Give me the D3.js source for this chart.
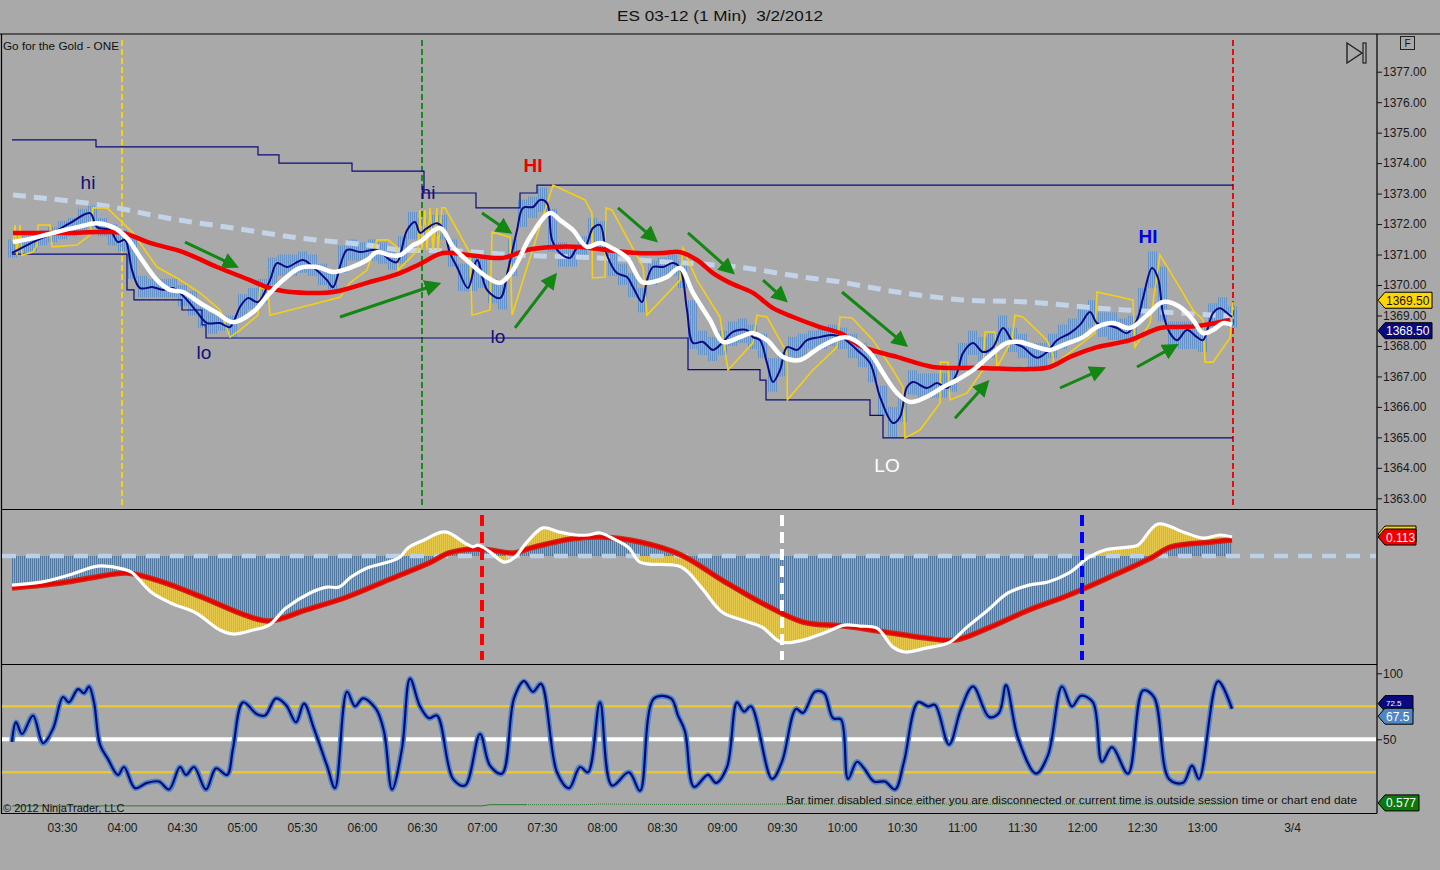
<!DOCTYPE html>
<html><head><meta charset="utf-8">
<script src="https://cdn.jsdelivr.net/npm/d3@7/dist/d3.min.js"></script>
<style>
html,body{margin:0;padding:0;background:#a9a9a9;}
svg{display:block;}
text{font-family:"Liberation Sans",Arial,sans-serif;}
</style></head><body>
<svg id="c" width="1440" height="870"></svg>
<script>
// ---------- DATA (minutes after 03:00, value) ----------
const timeTicks = [30,60,90,120,150,180,210,240,270,300,330,360,390,420,450,480,510,540,570,600,645];
const timeLabels = ["03:30","04:00","04:30","05:00","05:30","06:00","06:30","07:00","07:30","08:00","08:30","09:00","09:30","10:00","10:30","11:00","11:30","12:00","12:30","13:00","3/4"];
const priceTicks = [1363,1364,1365,1366,1367,1368,1369,1370,1371,1372,1373,1374,1375,1376,1377];
const stochTicks = [50,100];

const barT = d3.range(5, 616, 5);
const barHigh = [1371.5,1371.6,1371.7,1371.8,1371.9,1372.1,1372.2,1372.5,1372.6,1372.2,
1372.0,1371.8,1371.6,1370.3,1370.2,1370.2,1370.2,1370.0,1369.8,1369.3,
1369.1,1369.0,1369.0,1369.7,1369.9,1370.2,1370.9,1371.0,1371.0,1371.1,
1371.0,1370.7,1370.4,1371.3,1371.5,1371.4,1371.5,1371.4,1371.2,1371.6,
1372.4,1372.2,1372.3,1372.3,1371.5,1370.7,1370.9,1370.9,1370.2,1370.1,
1371.5,1372.8,1372.9,1373.2,1372.5,1371.4,1371.3,1371.6,1372.2,1372.1,
1371.1,1370.7,1370.4,1369.9,1370.8,1370.9,1371.0,1370.8,1369.5,1368.5,
1368.3,1368.5,1368.8,1368.9,1368.7,1368.4,1367.6,1367.8,1368.3,1368.4,
1368.5,1368.6,1368.7,1368.6,1368.4,1368.1,1367.7,1366.7,1366.0,1366.3,
1367.2,1367.1,1367.1,1367.1,1367.3,1368.1,1368.5,1368.3,1368.4,1369.0,
1368.6,1368.4,1368.1,1368.1,1368.4,1368.7,1368.9,1369.2,1369.5,1369.1,
1369.1,1368.9,1369.0,1369.9,1371.1,1370.6,1368.8,1368.8,1368.8,1368.6,
1369.4,1369.6,1369.3];
const barLow = [1370.9,1371.0,1371.1,1371.3,1371.4,1371.5,1371.6,1371.8,1371.9,1371.6,
1371.3,1371.1,1370.2,1369.6,1369.6,1369.6,1369.6,1369.3,1369.0,1368.6,
1368.4,1368.5,1368.3,1368.9,1369.2,1369.4,1370.0,1370.3,1370.3,1370.4,
1370.3,1370.0,1369.7,1370.4,1370.8,1370.8,1370.8,1370.7,1370.5,1370.7,
1371.5,1371.4,1371.6,1371.5,1370.6,1369.8,1369.8,1369.9,1369.4,1369.2,
1370.3,1371.9,1372.2,1372.4,1371.1,1370.6,1370.6,1370.9,1371.4,1371.1,
1370.3,1370.0,1369.6,1369.1,1370.0,1370.2,1370.3,1369.9,1367.9,1367.7,
1367.5,1367.7,1368.0,1368.1,1367.9,1367.6,1366.5,1367.0,1367.5,1367.6,
1367.9,1367.9,1368.0,1367.9,1367.6,1367.3,1366.8,1365.7,1365.0,1365.5,
1366.4,1366.3,1366.3,1366.3,1366.5,1367.2,1367.7,1367.5,1367.6,1368.1,
1367.8,1367.6,1367.3,1367.3,1367.6,1367.9,1368.1,1368.3,1368.6,1368.3,
1368.2,1368.1,1368.2,1368.9,1369.9,1368.8,1368.0,1367.9,1367.9,1367.8,
1368.6,1368.8,1368.6];

const navyLine = [[5,1371.05],[15.5,1371.41],[25.5,1371.71],[34,1372.03],[44,1372.36],[47.5,1371.90],[54,1371.80],[58,1371.41],[61.5,1371.48],[65,1370.49],
[69,1369.90],[75.5,1369.93],[80.5,1369.84],[85.5,1369.90],[92.5,1369.51],[97.5,1369.11],[102.5,1368.75],[109,1368.75],[114,1368.62],[119,1369.28],
[123,1369.57],[128,1369.44],[134,1370.16],[137.5,1370.72],[142.5,1370.59],[150.5,1370.82],[155.5,1370.59],[162.5,1370.16],[165.5,1369.93],[172.5,1371.15],
[179,1371.08],[187.5,1371.15],[194,1370.82],[197.5,1370.75],[202.5,1371.80],[206.5,1372.07],[209,1371.71],[212.5,1371.87],[217.5,1372.03],[220.5,1371.87],
[224,1371.05],[227.5,1370.59],[233,1369.90],[237.5,1370.82],[242.5,1369.84],[249,1369.57],[253,1370.49],[257.5,1371.80],[260.5,1372.53],[265.5,1372.56],
[269,1372.79],[272.5,1372.69],[275,1371.48],[279,1371.05],[284,1370.89],[287.5,1371.21],[291.5,1371.25],[295.5,1371.87],[299,1371.97],[302.5,1370.98],
[307.5,1370.39],[312.5,1370.26],[315.5,1369.93],[320,1369.44],[322.5,1370.16],[325.5,1370.59],[330.5,1370.59],[335.5,1370.72],[339,1370.56],[342.5,1369.18],
[345.5,1368.10],[350.5,1368.13],[355.5,1367.87],[360.5,1368.13],[365.5,1368.46],[372.5,1368.52],[375.5,1368.29],[379,1368.19],[382.5,1367.44],[385.5,1366.82],
[389,1367.21],[392.5,1367.96],[397.5,1367.87],[402.5,1368.19],[409,1368.29],[415.5,1368.36],[420.5,1368.26],[427.5,1367.87],[434,1367.44],[439,1366.33],
[445.5,1365.47],[449,1365.67],[452.5,1366.65],[455.5,1366.82],[462.5,1366.62],[467.5,1366.78],[472.5,1366.62],[477.5,1367.11],[480.5,1367.77],[485.5,1368.10],
[490.5,1367.80],[495.5,1367.96],[500.5,1368.59],[505.5,1368.13],[510.5,1367.96],[517.5,1367.61],[522.5,1367.80],[527.5,1368.19],[534,1368.42],[539,1368.69],
[544,1369.11],[547.5,1368.75],[552.5,1368.69],[557.5,1368.59],[562.5,1368.42],[567.5,1368.85],[570.5,1369.57],[575,1370.56],[578,1370.23],[580.5,1369.08],
[584,1368.42],[587.5,1368.19],[592.5,1368.52],[597.5,1368.29],[600.5,1368.19],[605.5,1369.08],[609,1369.24],[612.5,1369.08],[615,1368.95]];

const yellowLine = [[5.5,1371.38],[6.5,1371.97],[7.5,1370.98],[9,1371.97],[10,1370.98],[15.5,1371.08],[17.5,1371.31],[18,1371.97],[24,1371.97],[25,1371.25],
[37.5,1371.31],[44,1371.64],[45.5,1372.53],[52.5,1372.53],[60.5,1372.03],[65.5,1371.71],[72.5,1371.05],[77.5,1370.59],[87.5,1370.23],[99,1369.74],
[109,1369.18],[114,1368.29],[119,1368.52],[128,1369.01],[129,1369.93],[133,1369.84],[134,1369.01],[169,1369.60],[174,1370.07],[182.5,1370.49],
[187.5,1371.48],[193,1371.48],[197.5,1371.25],[198,1370.49],[208,1371.15],[209,1372.46],[210,1371.15],[211.5,1372.46],[212.5,1371.15],[214,1372.53],
[215.5,1371.15],[217.5,1372.53],[218,1371.15],[220,1372.53],[221.5,1372.53],[234,1371.05],[235,1369.01],[244,1369.18],[245,1371.74],[254,1371.57],
[255,1369.01],[275.5,1373.28],[291.5,1372.79],[295,1372.36],[295.2,1370.23],[301.5,1370.26],[302,1372.53],[305,1372.46],[320.5,1370.59],[322.5,1369.01],
[339,1370.16],[340.5,1371.21],[347.5,1370.16],[359,1368.95],[363,1367.21],[375.5,1368.10],[377.5,1369.01],[382.5,1368.95],[392.5,1367.77],[392.7,1366.23],
[405.5,1367.21],[417.5,1367.96],[419,1368.95],[425,1368.92],[435.5,1368.19],[445.5,1367.21],[450.5,1366.65],[451.5,1364.98],[459,1365.24],[469,1366.13],
[469.2,1367.47],[473,1367.47],[474,1366.23],[482.5,1366.46],[490.5,1367.21],[491.5,1368.46],[496.5,1368.46],[497.5,1367.31],[505,1368.19],[506.5,1369.01],
[510.5,1368.95],[522.5,1368.19],[525.5,1367.70],[525.7,1367.37],[546.5,1368.42],[547.5,1369.77],[565.5,1369.51],[566.5,1367.96],[574,1368.75],[579,1370.98],
[587.5,1370.07],[595.5,1369.18],[600.5,1368.85],[601.5,1367.47],[605.5,1367.47],[614,1368.26],[615.5,1369.44]];

const whiteLine = [[5.5,1371.41],[15.5,1371.54],[25.5,1371.71],[37.5,1371.90],[47.5,1372.03],[55.5,1371.90],[62.5,1371.54],[69,1370.92],[77.5,1370.16],[84,1369.84],
[90.5,1369.77],[99,1369.41],[107.5,1369.08],[115.5,1368.78],[125.5,1369.11],[134,1369.74],[140.5,1370.16],[149,1370.56],[157.5,1370.59],[165.5,1370.43],
[174,1370.56],[182.5,1370.82],[187.5,1371.08],[194,1370.98],[199,1370.98],[205.5,1371.31],[209,1371.41],[219,1371.87],[225.5,1371.25],[234,1370.72],
[242.5,1370.26],[249,1370.07],[255.5,1370.49],[264,1371.57],[274,1372.36],[279,1372.13],[285.5,1371.80],[292.5,1371.25],[299,1371.38],[305,1371.21],
[312.5,1370.89],[320,1370.10],[325.5,1370.10],[332.5,1370.26],[339,1370.56],[345.5,1369.74],[354,1368.85],[360.5,1368.13],[369,1368.29],[375.5,1368.42],
[382.5,1368.19],[390.5,1367.64],[399,1367.54],[409,1367.96],[419,1368.26],[424,1368.26],[434,1367.77],[440.5,1367.11],[447.5,1366.46],[454,1366.16],
[464,1366.39],[470.5,1366.65],[477.5,1366.88],[485.5,1367.21],[495.5,1367.77],[502.5,1368.10],[509,1368.13],[517.5,1367.96],[524,1367.87],[530.5,1368.03],
[540.5,1368.29],[547.5,1368.62],[555.5,1368.75],[564,1368.59],[572.5,1369.01],[580.5,1369.44],[589,1369.28],[595.5,1368.85],[600.5,1368.42],[605.5,1368.52],
[610.5,1368.75],[615,1368.69]];

const redLine = [[5.5,1371.71],[32.5,1371.71],[49,1371.74],[60.5,1371.71],[74,1371.38],[90.5,1371.08],[107.5,1370.59],[124,1370.16],[132.5,1369.93],[140.5,1369.80],
[152.5,1369.74],[165.5,1369.77],[182.5,1370.07],[199,1370.39],[209,1370.69],[220.5,1371.05],[234,1370.98],[250.5,1370.89],[262.5,1371.15],[275.5,1371.25],
[289,1371.25],[302.5,1371.15],[317.5,1371.05],[330.5,1371.05],[339,1371.08],[347.5,1370.82],[355.5,1370.39],[364,1370.07],[375.5,1369.74],[385.5,1369.24],
[395.5,1368.95],[409,1368.62],[419,1368.42],[430.5,1367.96],[447.5,1367.64],[465.5,1367.31],[489,1367.28],[514,1367.24],[524,1367.31],[534,1367.64],
[547.5,1367.96],[564,1368.19],[579,1368.59],[589,1368.62],[597.5,1368.65],[614,1368.85]];

const slowLine = [[5.5,1372.95],[49,1372.63],[82.5,1372.20],[115.5,1371.87],[149,1371.54],[182.5,1371.31],[199,1371.15],[225.5,1371.12],[259,1370.98],[299,1370.89],
[334,1370.75],[367.5,1370.59],[400.5,1370.26],[419,1370.10],[447.5,1369.77],[480.5,1369.51],[514,1369.44],[547.5,1369.24],[580.5,1369.11],[615,1368.98]];

const upperSteps = [[5,1374.76],[47,1374.53],[128,1374.27],[138.5,1374.0],[175,1373.74],[211,1373.02],[237,1372.53],[259,1373.02],[267.5,1373.28],[615.5,1373.28]];
const lowerSteps = [[5,1371.01],[62.5,1369.84],[66,1369.51],[90,1369.18],[100,1368.69],[102,1368.26],[343,1367.22],[379,1366.88],[382,1366.23],[434,1365.72],[440.5,1364.98],[615.5,1364.98]];

const arrows = [[91.5,1371.41,115.5,1370.66],[169,1368.95,216.5,1370.00],[240,1372.36,252.5,1371.80],[256.5,1368.59,275.5,1370.23],
[308,1372.53,325.5,1371.54],[343,1371.71,364,1370.49],[380.5,1370.16,390.5,1369.57],[420,1369.77,450.5,1368.10],
[476.5,1365.63,491.5,1366.72],[529,1366.62,549,1367.21],[567.5,1367.31,585.5,1367.96]];

const labels = [["hi",43,1373.15,"#10107a"],["hi",213,1372.82,"#10107a"],["lo",101,1367.57,"#10107a"],["lo",248,1368.10,"#10107a"],
["HI",265.5,1373.72,"#ee0000"],["HI",573,1371.38,"#0000ee"],["LO",442.5,1363.85,"#ffffff"]];

const vLinesMain = [[60,"#f2d21a"],[210,"#1c8a1c"],[615.5,"#e01010"]];
const vLinesMid = [[240,"#ff0000"],[390,"#ffffff"],[540,"#0000ff"]];

const macdWhite = [[5,-0.173],[19.5,-0.155],[33.5,-0.113],[48,-0.060],[58,-0.071],[64.5,-0.095],[74.5,-0.214],[84.5,-0.280],[97,-0.339],[109,-0.440],
[115.5,-0.464],[125.5,-0.440],[133.5,-0.411],[142,-0.310],[154,-0.220],[162.5,-0.185],[168.5,-0.185],[174.5,-0.125],[182.5,-0.071],[193,-0.036],
[199,-0.006],[203,0.048],[211,0.095],[221.5,0.143],[231.5,0.077],[235.5,0.054],[238,0.065],[244,0.024],[251,-0.036],[256,-0.012],
[262.5,0.083],[270.5,0.167],[278.5,0.143],[287,0.125],[293,0.125],[299,0.137],[305,0.107],[313.5,0.048],[319,-0.036],[339.5,-0.065],
[349.5,-0.185],[360,-0.333],[370,-0.381],[380,-0.423],[389.5,-0.512],[400.5,-0.500],[411,-0.458],[421,-0.411],[429,-0.417],[437.5,-0.429],
[445.5,-0.542],[451.5,-0.571],[462,-0.548],[474,-0.512],[482.5,-0.423],[493,-0.321],[503,-0.220],[513.5,-0.173],[523,-0.155],[533.5,-0.101],
[543.5,-0.006],[551.5,0.036],[564,0.054],[568,0.065],[578,0.190],[590.5,0.143],[600.5,0.107],[609,0.125],[615,0.113]];
const macdRed = [[5,-0.190],[29.5,-0.161],[50,-0.119],[62.5,-0.101],[80.5,-0.155],[101,-0.250],[121.5,-0.351],[133.5,-0.387],[152,-0.321],[172.5,-0.244],
[193,-0.143],[213.5,-0.042],[223.5,0.018],[235.5,0.042],[244,0.036],[256,0.018],[264.5,0.048],[284.5,0.101],[299,0.113],[319,0.083],
[339.5,0.006],[360,-0.143],[380,-0.280],[400.5,-0.393],[421,-0.417],[441.5,-0.452],[462,-0.488],[476.5,-0.500],[493,-0.429],[513.5,-0.321],
[533.5,-0.232],[554,-0.125],[574.5,-0.012],[584.5,0.054],[605,0.083],[615,0.095]];

const stoch = [[5,48],[7,63],[10,54],[15.5,68],[20.5,47],[25.5,58],[30.5,82],[33.5,78],[38,88],[41,85],[43.5,90],[46,78],[49,46],[53,35],[58,23],[61,29],
[66.5,13],[72.5,17],[78.5,18],[83.5,12],[89,29],[92,23],[96,29],[102,12],[107,28],[112.5,23],[115.5,43],[120.5,78],[127.5,69],[131.5,68],[137,81],[142,76],
[147,63],[151,77],[156,58],[162.5,30],[166.5,13],[172.5,86],[176.5,75],[180.5,81],[187,73],[191,56],[195,12],[200,43],[204,96],[209,75],[213.5,66],[217.5,68],
[225.5,20],[231.5,15],[239,54],[244,30],[250,24],[256,81],[261,94],[265.5,86],[269.5,92],[277.5,25],[283.5,13],[289,29],[293,25],[299,78],[305,15],[313.5,25],
[319,11],[326,81],[334.5,81],[338,68],[341.5,56],[346,14],[353,23],[357,17],[362.5,29],[367.5,78],[371,71],[374.5,75],[385,20],[390,33],[397,73],[400.5,70],
[406.5,86],[411,85],[415.5,66],[419.5,65],[423,20],[427.5,33],[431,28],[436,18],[441.5,18],[446.5,12],[451,33],[458,78],[463,75],[466.5,76],[473.5,46],[479.5,73],
[485.5,90],[493.5,67],[498.5,70],[502,91],[508,51],[517,24],[523,38],[530,90],[535,75],[539.5,83],[545.5,78],[550,33],[555,44],[563,24],[570.5,87],[576,82],
[583.5,20],[590.5,17],[595,30],[598.5,20],[608,94],[615,73]];
const stochLevels = [[75,"#e8c82a",2.5],[50,"#ffffff",4],[25,"#e8c82a",2.5]];
const greenSolid = [[5,0.567],[240,0.567],[244,0.571],[262,0.571]];
const greenDotted = [[262,0.571],[290,0.571],[300,0.573],[330,0.572],[400,0.573],[615,0.573]];

// ---------- SCALES ----------
const x = d3.scaleLinear().domain([0, 687.5]).range([2, 1377]);
const yMain = d3.scaleLinear().domain([1363, 1377]).range([498.3, 71.7]);
const yMid = d3.scaleLinear().domain([0, 0.113]).range([556, 537]);
const ySt = d3.scaleLinear().domain([0, 100]).range([805.3, 673.3]);
const yGr = d3.scaleLinear().domain([0.55, 0.60]).range([811, 796]);

const svg = d3.select('#c');
svg.append('rect').attr('width',1440).attr('height',870).attr('fill','#a9a9a9');
const defs = svg.append('defs');
function clip(id,y0,y1){defs.append('clipPath').attr('id',id).append('rect').attr('x',2).attr('y',y0).attr('width',1374).attr('height',y1-y0);}
clip('cMain',35,508); clip('cMid',511,663); clip('cSt',666,812);
const bp = defs.append('pattern').attr('id','barPat').attr('width',2).attr('height',4).attr('patternUnits','userSpaceOnUse');
bp.append('rect').attr('x',0).attr('width',1).attr('height',4).attr('fill','#6592c8');
const hp = defs.append('pattern').attr('id','histPat').attr('width',2).attr('height',4).attr('patternUnits','userSpaceOnUse');
hp.append('rect').attr('x',0).attr('width',1).attr('height',4).attr('fill','#52789f');
hp.append('rect').attr('x',1).attr('width',1).attr('height',4).attr('fill','#86a9cc');
const yp = defs.append('pattern').attr('id','yelPat').attr('width',2).attr('height',4).attr('patternUnits','userSpaceOnUse');
yp.append('rect').attr('x',0).attr('width',1).attr('height',4).attr('fill','#e6c94c');
yp.append('rect').attr('x',1).attr('width',1).attr('height',4).attr('fill','#cdb455');
defs.append('marker').attr('id','arr').attr('viewBox','0 0 10 10').attr('refX',6).attr('refY',5)
  .attr('markerWidth',5.5).attr('markerHeight',5.5).attr('orient','auto')
  .append('path').attr('d','M0,0 L10,5 L0,10 Z').attr('fill','#138613');

// title
svg.append('text').attr('x',720).attr('y',21).attr('text-anchor','middle').attr('font-size',15)
  .attr('textLength',206).attr('lengthAdjust','spacingAndGlyphs')
  .style('white-space','pre').attr('fill','#111').text('ES 03-12 (1 Min)  3/2/2012');

// frames
const frame = svg.append('g').attr('stroke','#000').attr('stroke-width',1.2);
frame.append('line').attr('x1',0).attr('x2',1440).attr('y1',34).attr('y2',34);
[509.5,664.5,813.5].forEach(yy=>frame.append('line').attr('x1',1).attr('x2',1377).attr('y1',yy).attr('y2',yy));
frame.append('line').attr('x1',1.5).attr('x2',1.5).attr('y1',34).attr('y2',813.5);
frame.append('line').attr('x1',1377).attr('x2',1377).attr('y1',34).attr('y2',813.5);

// ---------- MAIN PANEL ----------
const gm = svg.append('g').attr('clip-path','url(#cMain)');
const cr = d3.curveCatmullRom.alpha(0.5);
const lnMain = d3.line().x(d=>x(d[0])).y(d=>yMain(d[1])).curve(cr);
vLinesMain.forEach(([m,c])=>gm.append('line').attr('x1',x(m)).attr('x2',x(m)).attr('y1',40).attr('y2',508)
  .attr('stroke',c).attr('stroke-width',2).attr('stroke-dasharray','6,3'));
gm.selectAll('rect.bar').data(barT.map((m,i)=>[m,barHigh[i],barLow[i]])).join('rect').attr('class','bar')
  .attr('x',d=>x(d[0]-2.5)).attr('width',x(5)-x(0)).attr('y',d=>yMain(d[1])).attr('height',d=>yMain(d[2])-yMain(d[1]))
  .attr('fill','url(#barPat)');
const stepLn = d3.line().x(d=>x(d[0])).y(d=>yMain(d[1])).curve(d3.curveStepAfter);
[upperSteps,lowerSteps].forEach(s=>gm.append('path').attr('d',stepLn(s)).attr('fill','none').attr('stroke','#0a0a7a').attr('stroke-width',1.2));
gm.append('path').attr('d',lnMain(slowLine)).attr('fill','none').attr('stroke','#c3d3e8').attr('stroke-width',5).attr('stroke-dasharray','13,8');
gm.append('path').attr('d',d3.line().x(d=>x(d[0])).y(d=>yMain(d[1]))(yellowLine)).attr('fill','none').attr('stroke','#f5cf14').attr('stroke-width',1.6);
gm.append('path').attr('d',lnMain(navyLine)).attr('fill','none').attr('stroke','#0b0b86').attr('stroke-width',2);
gm.append('path').attr('d',lnMain(redLine)).attr('fill','none').attr('stroke','#f20000').attr('stroke-width',4.5);
gm.append('path').attr('d',lnMain(whiteLine)).attr('fill','none').attr('stroke','#ffffff').attr('stroke-width',4.5);
arrows.forEach(a=>gm.append('line').attr('x1',x(a[0])).attr('y1',yMain(a[1])).attr('x2',x(a[2])).attr('y2',yMain(a[3]))
  .attr('stroke','#138613').attr('stroke-width',3).attr('marker-end','url(#arr)'));
labels.forEach(l=>gm.append('text').attr('x',x(l[1])).attr('y',yMain(l[2])).attr('text-anchor','middle')
  .attr('font-family','DejaVu Sans').attr('font-size',19)
  .attr('font-weight',l[0]==='HI'?'bold':'normal').attr('fill',l[3]).text(l[0]));
svg.append('text').attr('x',3).attr('y',50).attr('font-size',11).attr('fill','#111')
  .attr('textLength',116).attr('lengthAdjust','spacingAndGlyphs').text('Go for the Gold - ONE');

// price axis
const pa = svg.append('g').attr('transform','translate(1377,0)')
  .call(d3.axisRight(yMain).tickValues(priceTicks).tickFormat(d3.format('.2f')).tickSize(5).tickSizeOuter(0).tickPadding(1));
pa.select('.domain').remove();
pa.selectAll('text').attr('font-size',12).attr('fill','#1a1a1a').attr('font-family','Liberation Sans');
pa.selectAll('line').attr('stroke','#111');

// ---------- MID PANEL ----------
const gd = svg.append('g').attr('clip-path','url(#cMid)');
const lnMid = d3.line().x(d=>x(d[0])).y(d=>yMid(d[1])).curve(cr);
const fillPath = lnMid(macdWhite) + 'L' + lnMid(macdRed.slice().reverse()).slice(1) + 'Z';
gd.append('path').attr('d',fillPath).attr('fill','url(#yelPat)');
gd.append('path').attr('d',d3.area().x(d=>x(d[0])).y0(yMid(0)).y1(d=>yMid(d[1])).curve(cr)(macdRed)).attr('fill','url(#histPat)');
gd.append('line').attr('x1',2).attr('x2',1376).attr('y1',yMid(0)).attr('y2',yMid(0)).attr('stroke','#bcd0e8').attr('stroke-width',4.5).attr('stroke-dasharray','14,10');
gd.append('path').attr('d',lnMid(macdRed)).attr('fill','none').attr('stroke','#c0301a').attr('stroke-width',5.5);
gd.append('path').attr('d',lnMid(macdRed)).attr('fill','none').attr('stroke','#ee0000').attr('stroke-width',3);
gd.append('path').attr('d',lnMid(macdWhite)).attr('fill','none').attr('stroke','#ffffff').attr('stroke-width',3.2);
vLinesMid.forEach(([m,c])=>gd.append('line').attr('x1',x(m)).attr('x2',x(m)).attr('y1',515).attr('y2',660)
  .attr('stroke',c).attr('stroke-width',4).attr('stroke-dasharray','11,6'));

// ---------- STOCH PANEL ----------
const gs = svg.append('g').attr('clip-path','url(#cSt)');
stochLevels.forEach(([v,c,w])=>gs.append('line').attr('x1',2).attr('x2',1376).attr('y1',ySt(v)).attr('y2',ySt(v)).attr('stroke',c).attr('stroke-width',w));
const lnSt = d3.line().x(d=>x(d[0])).y(d=>ySt(d[1])).curve(cr);
gs.append('path').attr('d',lnSt(stoch)).attr('fill','none').attr('stroke','#4d86c8').attr('stroke-width',5.5);
gs.append('path').attr('d',lnSt(stoch)).attr('fill','none').attr('stroke','#08087a').attr('stroke-width',2.2);
const lnGr = d3.line().x(d=>x(d[0])).y(d=>yGr(d[1]));
gs.append('path').attr('d',lnGr(greenSolid)).attr('fill','none').attr('stroke','#2f7a2f').attr('stroke-width',1);
gs.append('path').attr('d',lnGr(greenDotted)).attr('fill','none').attr('stroke','#2f7a2f').attr('stroke-width',1).attr('stroke-dasharray','1,1');
svg.append('text').attr('x',3).attr('y',812).attr('font-size',11).attr('fill','#111').text('© 2012 NinjaTrader, LLC');
svg.append('text').attr('x',786).attr('y',804).attr('font-size',11).attr('font-family','DejaVu Sans')
  .attr('textLength',571).attr('lengthAdjust','spacingAndGlyphs').attr('fill','#111')
  .text('Bar timer disabled since either you are disconnected or current time is outside session time or chart end date');
const sa = svg.append('g').attr('transform','translate(1377,0)')
  .call(d3.axisRight(ySt).tickValues(stochTicks).tickFormat(d3.format('d')).tickSize(5).tickSizeOuter(0).tickPadding(1));
sa.select('.domain').remove();
sa.selectAll('text').attr('font-size',12).attr('fill','#1a1a1a');
sa.selectAll('line').attr('stroke','#111');

// ---------- TIME AXIS ----------
const ta = svg.append('g').attr('transform','translate(0,814)')
  .call(d3.axisBottom(x).tickValues(timeTicks).tickFormat((d,i)=>timeLabels[i]).tickSize(0).tickPadding(9));
ta.select('.domain').remove();
ta.selectAll('text').attr('font-size',12).attr('fill','#1a1a1a');

// ---------- TAGS ----------
function tag(yv, txt, fill, tc, w, fs, dy){
  const g = svg.append('g');
  g.append('path').attr('d',`M1378,${yv} L1385,${yv-8} L${1378+w},${yv-8} L${1378+w},${yv+8} L1385,${yv+8} Z`)
    .attr('fill',fill).attr('stroke','#000').attr('stroke-width',1);
  g.append('text').attr('x',1386).attr('y',yv+(dy==null?4.5:dy)).attr('font-size',fs||12).attr('fill',tc).text(txt);
}
tag(yMain(1369.5),'1369.50','#ffd700','#111',54);
tag(yMain(1368.5),'1368.50','#0a0a80','#fff',54);
tag(yMid(0.113)-3,'','#ffd700','#111',38);
tag(yMid(0.113),'0.113','#ee0000','#fff',38);
tag(ySt(72.5)-6,'72.5','#0a0a80','#fff',35,8,2.5);
tag(ySt(67.5),'67.5','#4f86c4','#fff',35);
tag(yGr(0.577),'0.577','#0b7a0b','#fff',41);

// chart chrome
svg.append('rect').attr('x',1400.5).attr('y',36.5).attr('width',14).attr('height',13).attr('fill','none').attr('stroke','#222');
svg.append('text').attr('x',1407.5).attr('y',47).attr('text-anchor','middle').attr('font-size',10).attr('fill','#111').text('F');
svg.append('path').attr('d','M1347,43 L1347,63 L1362,53 Z').attr('fill','none').attr('stroke','#222').attr('stroke-width',1.4);
svg.append('rect').attr('x',1363).attr('y',43).attr('width',3).attr('height',20).attr('fill','none').attr('stroke','#222').attr('stroke-width',1.2);
</script></body></html>
